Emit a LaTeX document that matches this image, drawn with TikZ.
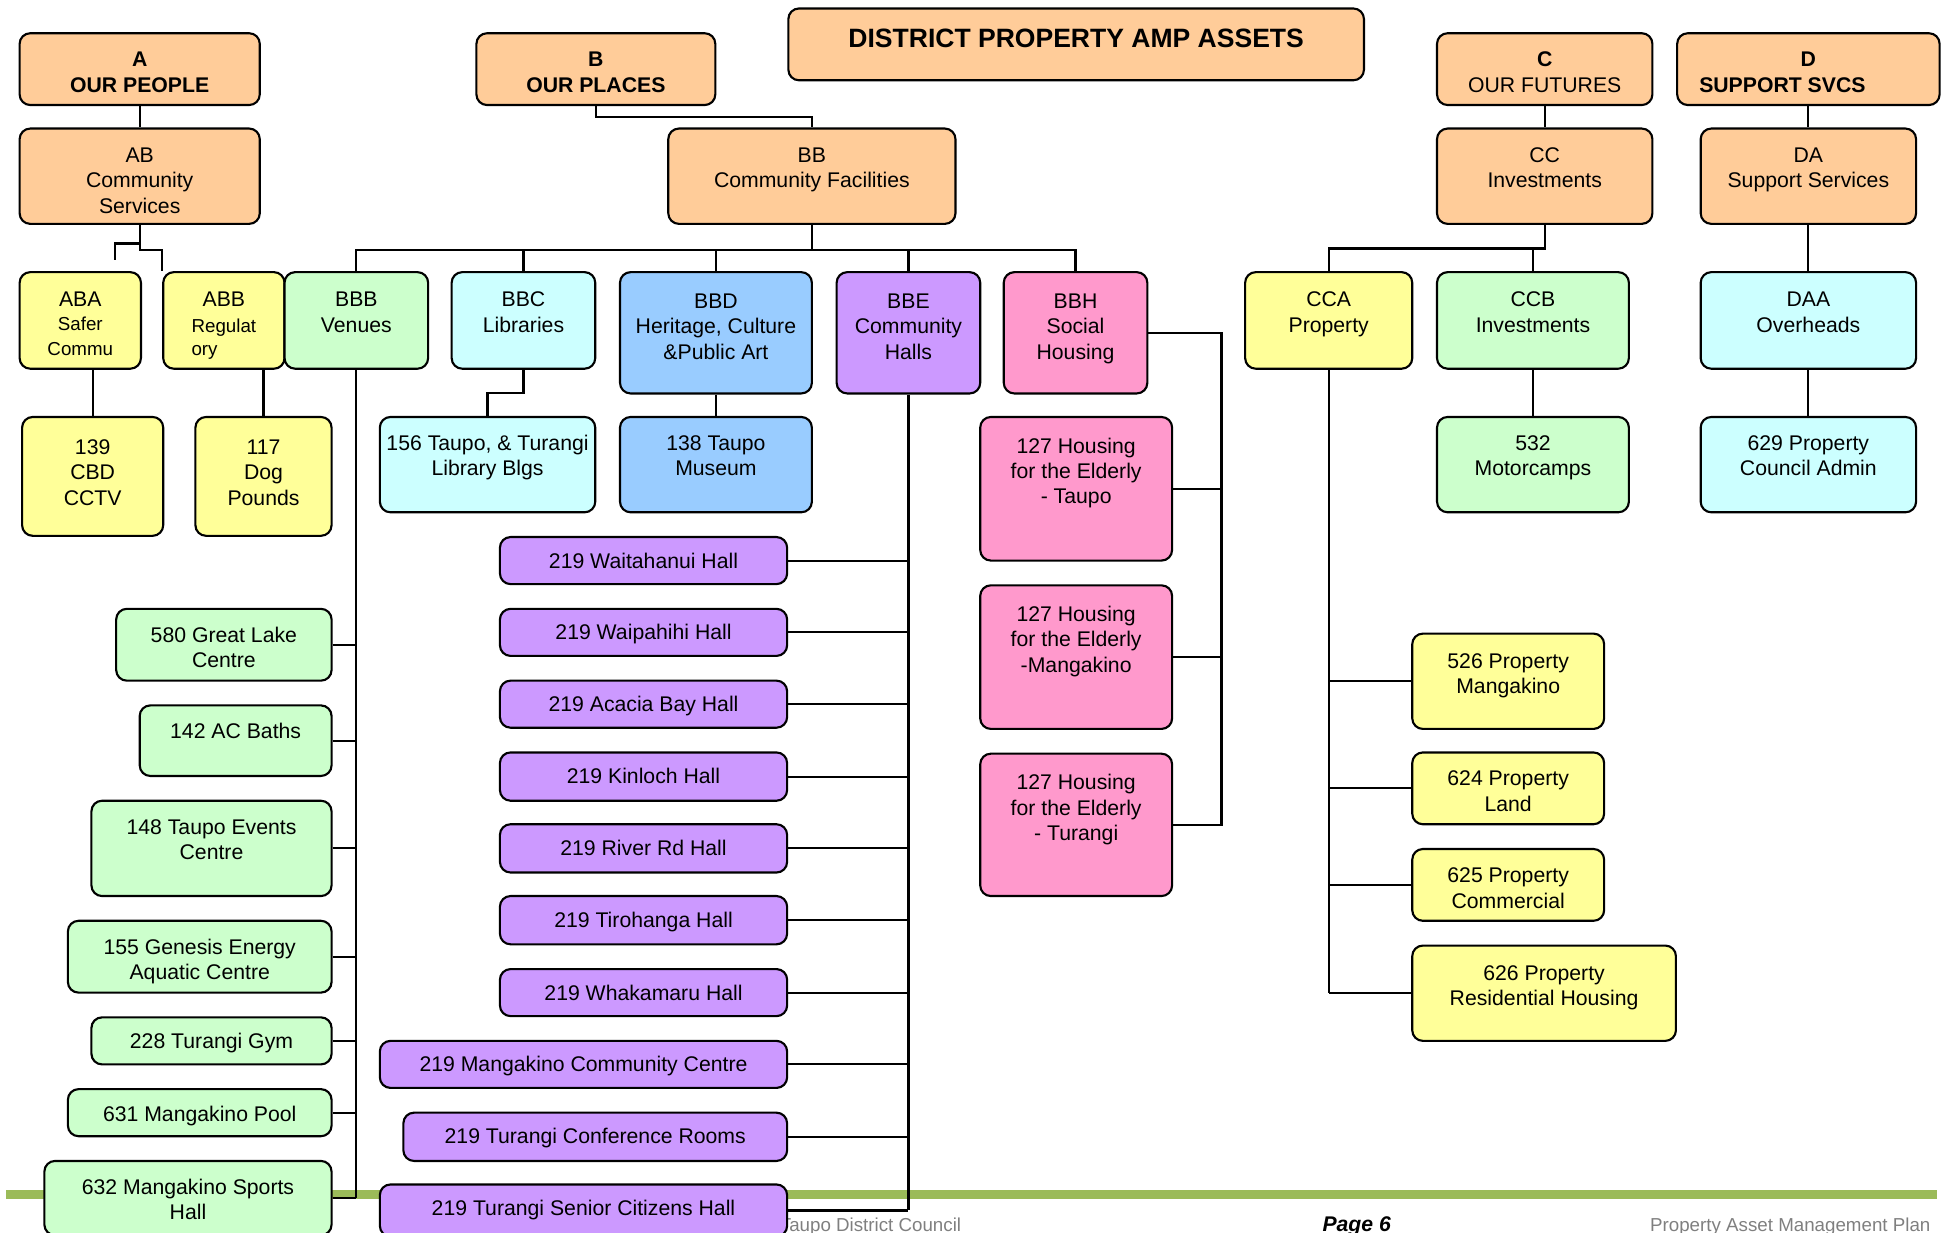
\documentclass[tikz,border=0pt]{standalone}
\usepackage{fontspec}
\setmainfont{Liberation Sans}

\newlength\pxu
\setlength\pxu{0.35pt}
\definecolor{peach}{HTML}{FFCC99}
\definecolor{lemon}{HTML}{FFFF99}
\definecolor{mint}{HTML}{CCFFCC}
\definecolor{aqua}{HTML}{CCFFFF}
\definecolor{sky}{HTML}{99CCFF}
\definecolor{lilac}{HTML}{CC99FF}
\definecolor{rose}{HTML}{FF99CC}
\definecolor{footgreen}{HTML}{9BBB59}
\definecolor{footgray}{HTML}{7F7F7F}

\def\oboxgap{12.7}
\newcommand\boxfont{\fontsize{6}{7.2}\selectfont}
\newcommand\smalltxt{\fontsize{5.3}{6.6}\selectfont}

\tikzset{
  obox/.style 2 args={draw, line width=0.6pt, rounded corners=3pt,
    inner sep=0pt, anchor=north west, font=\boxfont,
    execute at begin node={\begin{minipage}[c][#2\pxu][t]{#1\pxu}\centering
      \leftskip=-20\pxu plus 1fil\rightskip=-20\pxu plus 1fil
      \vspace*{\oboxgap\pxu}\strut},
    execute at end node={\end{minipage}}},
  textgap/.code={\def\oboxgap{#1}},
  bold/.style={font=\boxfont\bfseries},
  conn/.style={line width=0.6pt},
  foot/.style={inner sep=0pt, anchor=base east, text=footgray,
    font=\fontsize{5.3}{6}\selectfont},
}

\begin{document}
\begin{tikzpicture}[x=\pxu, y=-\pxu]
\useasboundingbox (0,0) rectangle (1568,996);
\clip (0,0) rectangle (1568,996);

% footer
\draw[footgreen, line width=2.55pt] (5,965) -- (1565,965);
\node (ftcouncil) [foot] at (777,995) {Taupo District Council};
\node (ftpage) [inner sep=0pt, anchor=base,
  font=\fontsize{6}{7}\selectfont\bfseries\itshape] at (1096,995) {Page 6};
\node (ftplan) [foot] at (1560,995) {Property Asset Management Plan};

% top level
\node (title) at (636,6) [obox={465}{58}, fill=peach, textgap=13.7,
  font=\fontsize{7.5}{9}\selectfont\bfseries] {DISTRICT PROPERTY AMP ASSETS};
\node (a) at (15,26) [obox={194}{58}, fill=peach, bold] {A\\OUR PEOPLE};
\node (b) at (384,26) [obox={193}{58}, fill=peach, bold] {B\\OUR PLACES};
\node (c) at (1160,26) [obox={174}{58}, fill=peach] {\textbf{C}\\OUR FUTURES};
\node (d) at (1354,26) [obox={212}{58}, fill=peach, bold]
  {D\\SUPPORT SVCS\hspace*{42\pxu}\mbox{}};

\node (ab) at (15,103) [obox={194}{77}, fill=peach] {AB\\Community\\Services};
\node (bb) at (539,103) [obox={232}{77}, fill=peach] {BB\\Community Facilities};
\node (cc) at (1160,103) [obox={174}{77}, fill=peach] {CC\\Investments};
\node (da) at (1373,103) [obox={174}{77}, fill=peach] {DA\\Support Services};

% activity level
\node (aba) at (15,219) [obox={98}{78}, fill=lemon, textgap=13.7]
  {ABA\\\smalltxt Safer\\Commu};
\node (abb) at (131,219) [obox={98}{78}, fill=lemon, textgap=13.7]
  {ABB\\\smalltxt\begin{tabular}[t]{@{}l@{}}Regulat\\ory\end{tabular}};
\node (bbb) at (229,219) [obox={116}{78}, fill=mint, textgap=13.7] {BBB\\Venues};
\node (bbc) at (364,219) [obox={116}{78}, fill=aqua, textgap=13.7] {BBC\\Libraries};
\node (bbd) at (500,219) [obox={155}{98}, fill=sky, textgap=14.7]
  {BBD\\Heritage, Culture\\\&Public Art};
\node (bbe) at (675,219) [obox={116}{98}, fill=lilac, textgap=14.7]
  {BBE\\Community\\Halls};
\node (bbh) at (810,219) [obox={116}{98}, fill=rose, textgap=14.7]
  {BBH\\Social\\Housing};
\node (cca) at (1005,219) [obox={135}{78}, fill=lemon, textgap=13.7] {CCA\\Property};
\node (ccb) at (1160,219) [obox={155}{78}, fill=mint, textgap=13.7] {CCB\\Investments};
\node (daa) at (1373,219) [obox={174}{78}, fill=aqua, textgap=13.7] {DAA\\Overheads};

% assets under the activities
\node (cctv) at (17,336) [obox={114}{96}, fill=lemon, textgap=15.7] {139\\CBD\\CCTV};
\node (dog) at (157,336) [obox={110}{96}, fill=lemon, textgap=15.7] {117\\Dog\\Pounds};
\node (lib) at (306,336) [obox={174}{77}, fill=aqua]
  {156 Taupo, \& Turangi\\Library Blgs};
\node (mus) at (500,336) [obox={155}{77}, fill=sky] {138 Taupo\\Museum};
\node (motor) at (1160,336) [obox={155}{77}, fill=mint] {532\\Motorcamps};
\node (admin) at (1373,336) [obox={174}{77}, fill=aqua] {629 Property\\Council Admin};

% venues
\node (ven1) at (93,491) [obox={174}{58}, fill=mint] {580 Great Lake\\Centre};
\node (ven2) at (112,569) [obox={155}{57}, fill=mint] {142 AC Baths};
\node (ven3) at (73,646) [obox={194}{77}, fill=mint] {148 Taupo Events\\Centre};
\node (ven4) at (54,743) [obox={213}{58}, fill=mint]
  {155 Genesis Energy\\Aquatic Centre};
\node (ven5) at (73,821) [obox={194}{38}, fill=mint, textgap=10.7] {228 Turangi Gym};
\node (ven6) at (54,879) [obox={213}{38}, fill=mint, textgap=11.7] {631 Mangakino Pool};
\node (ven7) at (35,937) [obox={232}{60}, fill=mint] {632 Mangakino Sports\\Hall};

% halls
\node (hall1) at (403,433) [obox={232}{38}, fill=lilac, textgap=10.7] {219 Waitahanui Hall};
\node (hall2) at (403,491) [obox={232}{38}, fill=lilac, textgap=10.7] {219 Waipahihi Hall};
\node (hall3) at (403,549) [obox={232}{38}, fill=lilac, textgap=10.7] {219 Acacia Bay Hall};
\node (hall4) at (403,607) [obox={232}{39}, fill=lilac, textgap=10.7] {219 Kinloch Hall};
\node (hall5) at (403,665) [obox={232}{39}, fill=lilac, textgap=10.7] {219 River Rd Hall};
\node (hall6) at (403,723) [obox={232}{39}, fill=lilac, textgap=10.7] {219 Tirohanga Hall};
\node (hall7) at (403,782) [obox={232}{38}, fill=lilac, textgap=10.7] {219 Whakamaru Hall};
\node (hall8) at (306,840) [obox={329}{38}, fill=lilac, textgap=10.7]
  {219 Mangakino Community Centre};
\node (hall9) at (325,898) [obox={310}{39}, fill=lilac, textgap=10.7]
  {219 Turangi Conference Rooms};
\node (hall10) at (306,956) [obox={329}{42}, fill=lilac, textgap=10.7]
  {219 Turangi Senior Citizens Hall};

% housing
\node (hse1) at (791,336) [obox={155}{116}, fill=rose, textgap=14.7]
  {127 Housing\\for the Elderly\\- Taupo};
\node (hse2) at (791,472) [obox={155}{116}, fill=rose, textgap=14.7]
  {127 Housing\\for the Elderly\\-Mangakino};
\node (hse3) at (791,608) [obox={155}{115}, fill=rose, textgap=14.7]
  {127 Housing\\for the Elderly\\- Turangi};

% property
\node (prop1) at (1140,511) [obox={155}{77}, fill=lemon, textgap=13.7]
  {526 Property\\Mangakino};
\node (prop2) at (1140,607) [obox={155}{58}, fill=lemon] {624 Property\\Land};
\node (prop3) at (1140,685) [obox={155}{58}, fill=lemon] {625 Property\\Commercial};
\node (prop4) at (1140,763) [obox={213}{77}, fill=lemon, textgap=13.7]
  {626 Property\\Residential Housing};

% connectors
\coordinate (abstub) at (92.7,210);
\draw[conn] (a.south) -- (ab.north);
\draw[conn] (ab.south) -- ++(0,15) -| (abstub);
\draw[conn] (ab.south) -- ++(0,20) -| (abb.north west);
\draw[conn] (cctv.north) -- (cctv.north |- aba.south);
\draw[conn] (dog.north) -- (dog.north |- abb.south);

\draw[conn] (b.south) -- ++(0,9) -| (bb.north);
\draw[conn] (bb.south) -- ++(0,20) coordinate (bbj);
\draw[conn] (bbb.north) |- (bbj) -| (bbh.north);
\foreach \n in {bbc,bbd,bbe}
  \draw[conn] (\n.north) -- (\n.north |- bbj);
\draw[conn] (bbc.south) -- ++(0,19) -| (lib.north);
\draw[conn] (bbd.south) -- (mus.north);

\draw[conn] (bbb.south) -- (bbb.south |- ven7.east);
\foreach \n in {ven1,ven2,ven3,ven4,ven5,ven6,ven7}
  \draw[conn] (\n.east) -- (\n.east -| bbb.south);
\draw[conn] (bbe.south) -- (bbe.south |- hall10.east);
\foreach \n in {hall1,hall2,hall3,hall4,hall5,hall6,hall7,hall8,hall9,hall10}
  \draw[conn] (\n.east) -- (\n.east -| bbe.south);
\draw[conn] (bbh.east) -- ++(59,0) coordinate (bbhj) |- (hse3.east);
\foreach \n in {hse1,hse2}
  \draw[conn] (\n.east) -- (\n.east -| bbhj);

\draw[conn] (c.south) -- (cc.north);
\draw[conn] (cc.south) -- ++(0,19) coordinate (ccj) -| (cca.north);
\draw[conn] (ccb.north) -- (ccb.north |- ccj);
\draw[conn] (ccb.south) -- (motor.north);
\draw[conn] (cca.south) -- (cca.south |- prop4.west);
\foreach \n in {prop1,prop2,prop3,prop4}
  \draw[conn] (\n.west) -- (\n.west -| cca.south);

\draw[conn] (d.south) -- (da.north);
\draw[conn] (da.south) -- (daa.north);
\draw[conn] (daa.south) -- (admin.north);
\end{tikzpicture}
\end{document}
